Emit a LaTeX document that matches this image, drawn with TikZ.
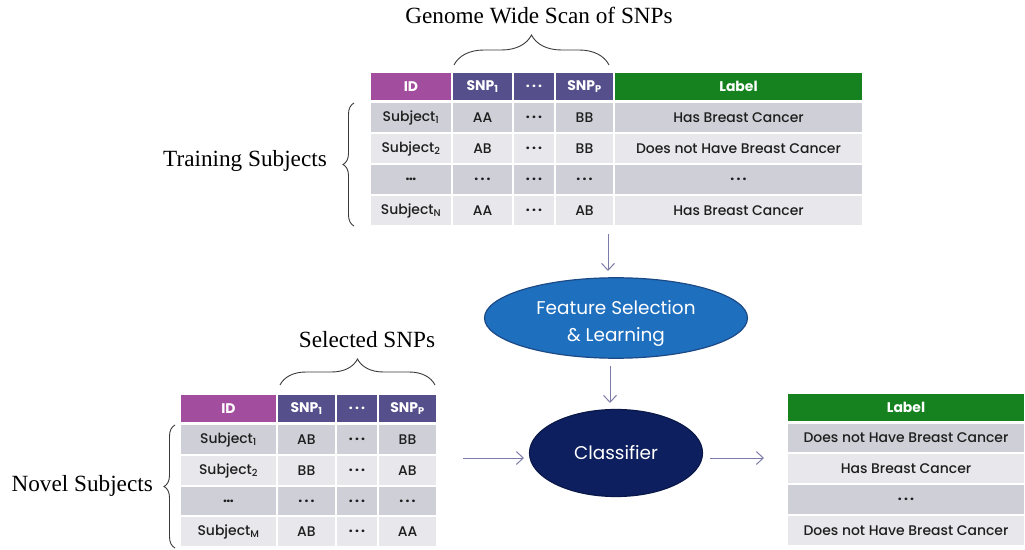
\documentclass[tikz,border=0pt]{standalone}
\usepackage{fontspec}
\setmainfont{Liberation Serif}
\newfontfamily\tabfont{Poppins}[UprightFont={* Medium}, BoldFont={* Bold}]
\newfontfamily\ellfont{Poppins}
\usetikzlibrary{shapes.geometric,decorations.pathreplacing,arrows.meta}

\definecolor{idpurple}{HTML}{A24D9E}
\definecolor{snpblue}{HTML}{55508B}
\definecolor{labgreen}{HTML}{15821F}
\definecolor{rowdark}{HTML}{CFD0D7}
\definecolor{rowlight}{HTML}{E7E7EC}
\definecolor{fsblue}{HTML}{1F6FBF}
\definecolor{fsedge}{HTML}{1B4A86}
\definecolor{clnavy}{HTML}{0E1F5F}
\definecolor{cledge}{HTML}{091848}
\definecolor{arrowcol}{HTML}{7D7BAA}
\definecolor{cellink}{HTML}{1E1E1E}
\definecolor{bracecol}{HTML}{3A3A3A}

% spaced three-dot ellipsis used in the table cells
\newcommand\tdots{\textbf{.\hspace{2.2bp}.\hspace{2.2bp}.}}

% table cell: name, x1, y1, x2, y2, style, text
\newcommand\tcell[7]{%
  \node[#6, minimum width={(#4-#2)*1bp}, minimum height={(#5-#3)*1bp}]
    (#1) at ({(#2+#4)/2},{(#3+#5)/2}) {#7};}

\tikzset{
  cellbase/.style={rectangle, draw=white, line width=1.5bp, inner sep=0pt, outer sep=0pt,
    text=cellink, font=\tabfont\fontsize{14}{16}\selectfont},
  dk/.style={cellbase, fill=rowdark},
  lt/.style={cellbase, fill=rowlight},
  headbase/.style={cellbase, text=white, font=\tabfont\bfseries\fontsize{14}{16}\selectfont},
  hid/.style={headbase, fill=idpurple},
  hsnp/.style={headbase, fill=snpblue},
  hlab/.style={headbase, fill=labgreen},
  caption/.style={font=\fontsize{23.3}{27}\selectfont, text=black, inner sep=0pt},
  curly/.style={draw=bracecol, line width=0.9bp, decorate},
  flow/.style={draw=arrowcol, line width=1bp, -{Straight Barb[length=7bp,width=13bp]}},
}

\begin{document}
\begin{tikzpicture}[x=1bp,y=-1bp]
\useasboundingbox (0,0) rectangle (1025,550);

% ---- training table ----
\tcell{tid}{370}{72}{452}{101}{hid}{ID}
\tcell{tsa}{452}{72}{513}{101}{hsnp}{SNP\textsubscript{1}}
\tcell{tsd}{513}{72}{555}{101}{hsnp}{\tdots}
\tcell{tsp}{555}{72}{614}{101}{hsnp}{SNP\textsubscript{P}}
\tcell{tlab}{614}{72}{863}{101}{hlab}{Label}

\tcell{t1a}{370}{102}{452}{133}{dk}{Subject\textsubscript{1}}
\tcell{t1b}{452}{102}{513}{133}{dk}{AA}
\tcell{t1c}{513}{102}{555}{133}{dk}{\tdots}
\tcell{t1d}{555}{102}{614}{133}{dk}{BB}
\tcell{t1e}{614}{102}{863}{133}{dk}{Has Breast Cancer}

\tcell{t2a}{370}{133}{452}{164}{lt}{Subject\textsubscript{2}}
\tcell{t2b}{452}{133}{513}{164}{lt}{AB}
\tcell{t2c}{513}{133}{555}{164}{lt}{\tdots}
\tcell{t2d}{555}{133}{614}{164}{lt}{BB}
\tcell{t2e}{614}{133}{863}{164}{lt}{Does not Have Breast Cancer}

\tcell{t3a}{370}{164}{452}{195}{dk}{\textbf{\ldots}}
\tcell{t3b}{452}{164}{513}{195}{dk}{\tdots}
\tcell{t3c}{513}{164}{555}{195}{dk}{\tdots}
\tcell{t3d}{555}{164}{614}{195}{dk}{\tdots}
\tcell{t3e}{614}{164}{863}{195}{dk}{\tdots}

\tcell{t4a}{370}{195}{452}{226}{lt}{Subject\textsubscript{N}}
\tcell{t4b}{452}{195}{513}{226}{lt}{AA}
\tcell{t4c}{513}{195}{555}{226}{lt}{\tdots}
\tcell{t4d}{555}{195}{614}{226}{lt}{AB}
\tcell{t4e}{614}{195}{863}{226}{lt}{Has Breast Cancer}

% ---- novel subjects table ----
\tcell{nid}{180}{394}{277}{423}{hid}{ID}
\tcell{nsa}{277}{394}{336}{423}{hsnp}{SNP\textsubscript{1}}
\tcell{nsd}{336}{394}{378}{423}{hsnp}{\tdots}
\tcell{nsp}{378}{394}{437}{423}{hsnp}{SNP\textsubscript{P}}

\tcell{n1a}{180}{424}{277}{455}{dk}{Subject\textsubscript{1}}
\tcell{n1b}{277}{424}{336}{455}{dk}{AB}
\tcell{n1c}{336}{424}{378}{455}{dk}{\tdots}
\tcell{n1d}{378}{424}{437}{455}{dk}{BB}

\tcell{n2a}{180}{455}{277}{486}{lt}{Subject\textsubscript{2}}
\tcell{n2b}{277}{455}{336}{486}{lt}{BB}
\tcell{n2c}{336}{455}{378}{486}{lt}{\tdots}
\tcell{n2d}{378}{455}{437}{486}{lt}{AB}

\tcell{n3a}{180}{486}{277}{516}{dk}{\textbf{\ldots}}
\tcell{n3b}{277}{486}{336}{516}{dk}{\tdots}
\tcell{n3c}{336}{486}{378}{516}{dk}{\tdots}
\tcell{n3d}{378}{486}{437}{516}{dk}{\tdots}

\tcell{n4a}{180}{516}{277}{547}{lt}{Subject\textsubscript{M}}
\tcell{n4b}{277}{516}{336}{547}{lt}{AB}
\tcell{n4c}{336}{516}{378}{547}{lt}{\tdots}
\tcell{n4d}{378}{516}{437}{547}{lt}{AA}

% ---- predicted labels ----
\tcell{plab}{787}{393}{1025}{422}{hlab}{Label}
\tcell{p1}{787}{423}{1025}{453}{dk}{Does not Have Breast Cancer}
\tcell{p2}{787}{453}{1025}{484}{lt}{Has Breast Cancer}
\tcell{p3}{787}{484}{1025}{515}{dk}{\tdots}
\tcell{p4}{787}{515}{1025}{546}{lt}{Does not Have Breast Cancer}

% ---- processing steps ----
\node[ellipse, fill=fsblue, draw=fsedge, line width=1.2bp, minimum width=263bp,
      minimum height=77bp, inner sep=0pt, text=white, align=center,
      font=\ellfont\fontsize{18.5}{27}\selectfont] (fs) at (616,318)
      {\rule{0pt}{25bp}Feature Selection\\\& Learning};
\node[ellipse, fill=clnavy, draw=cledge, line width=1.2bp, minimum width=173bp,
      minimum height=87bp, inner sep=0pt, text=white,
      font=\ellfont\fontsize{18.5}{20}\selectfont] (clf) at (616,453) {Classifier};

% ---- braces and captions ----
\draw[curly, decoration={brace, amplitude=30bp}] (454,65) -- (609,65);
\node[caption] (gws) at (539,16) {Genome Wide Scan of SNPs};

\draw[curly, decoration={brace, amplitude=11bp}] (354,226) -- (354,103);
\node[caption, anchor=east] (trs) at (327,161) {Training Subjects};

\draw[curly, decoration={brace, amplitude=26bp}] (280,385) -- (435,385);
\node[caption] (sel) at (367,340) {Selected SNPs};

\draw[curly, decoration={brace, amplitude=11bp}] (175,548) -- (175,425);
\node[caption, anchor=east] (nov) at (153,486) {Novel Subjects};

% ---- flow arrows ----
\coordinate (a1s) at (608,234);
\coordinate (a1e) at (608,271);
\coordinate (a2s) at (610,366);
\coordinate (a2e) at (610,403);
\coordinate (a3s) at (463,458);
\coordinate (a3e) at (524,458);
\coordinate (a4s) at (710,458);
\coordinate (a4e) at (764,458);
\draw[flow] (a1s) -- (a1e);
\draw[flow] (a2s) -- (a2e);
\draw[flow] (a3s) -- (a3e);
\draw[flow] (a4s) -- (a4e);
\end{tikzpicture}
\end{document}
